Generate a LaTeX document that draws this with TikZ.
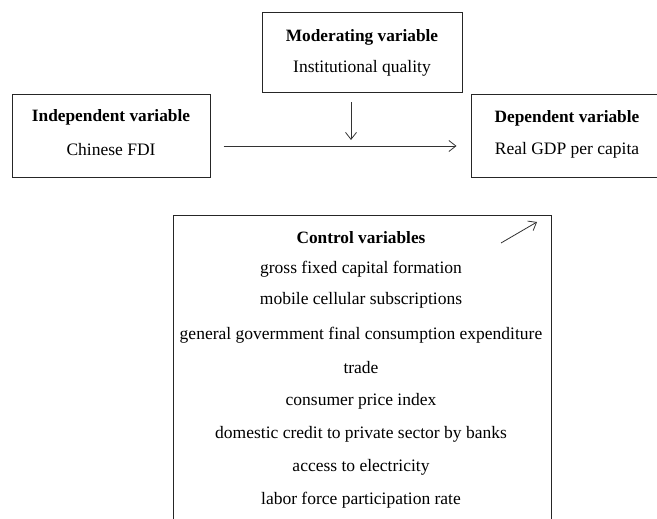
\documentclass[tikz,border=0pt]{standalone}
\usepackage{fontspec}
\setmainfont{Liberation Serif}
\usetikzlibrary{arrows.meta}
\begin{document}
\begin{tikzpicture}[x=1pt,y=-1pt,
  box/.style={draw=black!85,line width=1pt,minimum width=#1,inner sep=0pt},
  ttl/.style={font=\fontsize{17.3}{19}\selectfont\bfseries,inner sep=0pt},
  txt/.style={font=\fontsize{17.5}{19}\selectfont,inner sep=0pt},
  arr/.style={draw=black!80,line width=0.8pt,-{Straight Barb[length=7pt,width=11pt]}}]
\useasboundingbox (0,0) rectangle (657,519);
\clip (0,0) rectangle (657,519);
% boxes
\node[box=198pt,minimum height=82pt] (ind) at (111,136) {};
\node[box=200pt,minimum height=80pt] (mod) at (362,53) {};
\node[box=192pt,minimum height=82pt] (dep) at (567,136) {};
\node[box=378pt,minimum height=320pt] (ctl) at (362,375) {};
% texts
\node[ttl] (indt) at (111,117) {Independent variable};
\node[txt] (indv) at (111,150) {Chinese FDI};
\node[ttl] (modt) at (362,37) {Moderating variable};
\node[txt] (modv) at (362,68) {Institutional quality};
\node[ttl] (dept) at (567,118) {Dependent variable};
\node[txt] (depv) at (567,150) {Real GDP per capita};
\node[ttl] (ctlt) at (361,238) {Control variables};
\node[txt] (c1) at (361,269) {gross fixed capital formation};
\node[txt] (c2) at (361,300) {mobile cellular subscriptions};
\node[txt] (c3) at (361,335) {general govermment final consumption expenditure};
\node[txt] (c4) at (361,368) {trade};
\node[txt] (c5) at (361,401) {consumer price index};
\node[txt] (c6) at (361,434) {domestic credit to private sector by banks};
\node[txt] (c7) at (361,467) {access to electricity};
\node[txt] (c8) at (361,500) {labor force participation rate};
% connectors
\coordinate (ha) at (ind.east |- 0,146);
\coordinate (hb) at (dep.west |- 0,146);
\draw[arr,shorten <=13pt,shorten >=14pt] (ha) -- (hb);
\coordinate (vb) at (351,140);
\draw[arr] (mod.south -| vb) ++(0,9) -- (vb);
\coordinate (da) at (501,243);
\coordinate (db) at (537,222);
\draw[arr] (da) -- (db);
\end{tikzpicture}
\end{document}
